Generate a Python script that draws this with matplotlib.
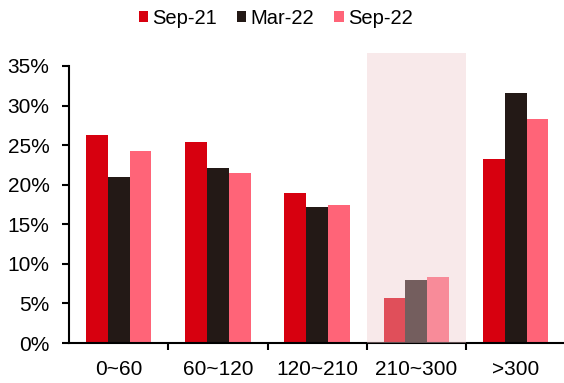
import numpy as np
import matplotlib
matplotlib.use("Agg")
import matplotlib.pyplot as plt
from matplotlib.ticker import FixedLocator, PercentFormatter

plt.rcParams['font.family'] = ['Liberation Sans', 'DejaVu Sans']

# Datos por rango de días
categorias = ['0~60', '60~120', '120~210', '210~300', '>300']
sep21 = [26.3, 25.4, 19.0, 5.7, 23.3]
mar22 = [21.0, 22.1, 17.2, 7.9, 31.6]
sep22 = [24.2, 21.5, 17.4, 8.3, 28.3]
series = ['Sep-21', 'Mar-22', 'Sep-22']
colores = ['#D7000F', '#231916', '#FF6478']
resaltado = 3  # rango sombreado

fig = plt.figure(figsize=(5.64, 3.83), dpi=100)
ax = fig.add_axes([0.1223, 0.1044, 0.88, 0.7233])

x = np.arange(len(categorias))
ancho = 0.22
for i, (vals, nombre, color) in enumerate(zip([sep21, mar22, sep22], series, colores)):
    ax.bar(x + (i - 1) * ancho, vals, width=ancho, color=color, label=nombre, zorder=2)

# Sombra sobre el rango destacado (por encima de las barras, semitransparente)
ax.axvspan(resaltado - 0.5, resaltado + 0.5, ymin=0, ymax=1.047,
           color='#EEC8CB', alpha=0.4, lw=0, zorder=3, clip_on=False)

ax.set_xlim(-0.5, len(categorias) - 0.5)
ax.set_ylim(0, 35)
ax.yaxis.set_major_locator(FixedLocator(np.arange(0, 36, 5)))
ax.yaxis.set_major_formatter(PercentFormatter(decimals=0))

ax.set_xticks(x)
ax.set_xticklabels(categorias)
ax.xaxis.set_minor_locator(FixedLocator(np.arange(0.5, len(categorias) - 0.5, 1)))
ax.tick_params(axis='x', which='major', length=0, labelsize=15, pad=12)
ax.tick_params(axis='x', which='minor', length=5, width=1.5, direction='out')
ax.tick_params(axis='y', length=5, width=1.5, labelsize=15, pad=9)

for lado in ['top', 'right']:
    ax.spines[lado].set_visible(False)
for lado in ['left', 'bottom']:
    ax.spines[lado].set_linewidth(1.5)

fig.legend(loc='upper center', bbox_to_anchor=(0.4885, 1.025), ncol=3, frameon=False,
           fontsize=14.5, handlelength=0.47, handleheight=0.47, handletextpad=0.2,
           columnspacing=1.0)

fig.savefig('out.png', dpi=100)
